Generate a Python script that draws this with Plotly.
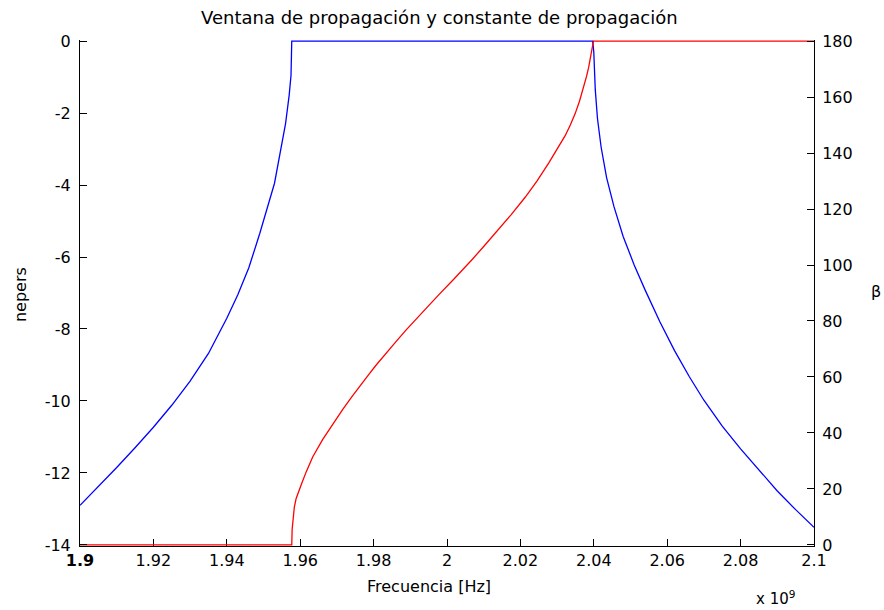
import plotly.graph_objects as go

# Frequency samples in units of 1e9 Hz
freq_alpha = [1.9000, 1.9050, 1.9100, 1.9150, 1.9200, 1.9250, 1.9300, 1.9350,
              1.9400, 1.9430, 1.9460, 1.9490, 1.9510, 1.9530, 1.9550, 1.9560,
              1.9570, 1.9575, 1.9577,
              2.0397,
              2.0400, 2.0404, 2.0410, 2.0420, 2.0435, 2.0455, 2.0480, 2.0510,
              2.0540, 2.0580, 2.0620, 2.0660, 2.0700, 2.0750, 2.0800, 2.0850,
              2.0900, 2.0950, 2.1000]
# Attenuation (nepers)
alpha = [-12.90, -12.38, -11.85, -11.30, -10.73, -10.12, -9.45, -8.68,
         -7.70, -7.05, -6.30, -5.34, -4.62, -3.95, -2.85, -2.30,
         -1.50, -0.95, 0.0,
         0.0,
         -0.31, -1.35, -2.15, -2.95, -3.80, -4.60, -5.43, -6.22,
         -6.92, -7.80, -8.60, -9.32, -9.98, -10.70, -11.33, -11.92,
         -12.50, -13.02, -13.51]

freq_beta = [1.9000, 1.9577, 1.9578, 1.9580, 1.9584, 1.9589, 1.9596, 1.9603,
             1.9616, 1.9634, 1.9661, 1.9688, 1.9716, 1.9740, 1.9761, 1.9785,
             1.9806, 1.9835, 1.9861, 1.9890, 1.9924, 1.9950, 1.9978, 2.0019,
             2.0045, 2.0068, 2.0100, 2.0141, 2.0175, 2.0213, 2.0245, 2.0277,
             2.0300, 2.0322, 2.0336, 2.0349, 2.0361, 2.0372, 2.0380, 2.0386,
             2.0391, 2.0395, 2.0397, 2.0399, 2.1000]
# Phase constant (degrees)
beta = [0.0, 0.0, 5.5, 9.5, 13.5, 16.6, 19.3, 21.6,
        26.0, 31.4, 37.6, 43.0, 48.4, 52.8, 56.6, 60.6,
        64.1, 68.7, 72.6, 77.0, 81.9, 85.6, 89.4, 95.0,
        98.6, 101.9, 106.6, 112.7, 118.0, 124.2, 130.0, 136.4,
        141.2, 146.2, 150.0, 154.0, 158.5, 163.2, 167.3, 170.6,
        174.2, 177.0, 177.5, 180.0, 180.0]

x_ticks = [1.9, 1.92, 1.94, 1.96, 1.98, 2.0, 2.02, 2.04, 2.06, 2.08, 2.1]
x_ticktext = ["<b>1.9</b>", "1.92", "1.94", "1.96", "1.98", "2", "2.02",
              "2.04", "2.06", "2.08", "2.1"]
y_ticks = [0, -2, -4, -6, -8, -10, -12, -14]
y_ticktext = ["0", "-2", "-4", "-6", "-8", "-10", "-12", "-14"]
y2_ticks = [0, 20, 40, 60, 80, 100, 120, 140, 160, 180]

SCALE = 1e9
FONT = "DejaVu Sans"

fig = go.Figure()
fig.add_trace(go.Scatter(
    x=[f * SCALE for f in freq_alpha], y=alpha, mode="lines",
    line=dict(color="#0000FF", width=1.3),
    yaxis="y", showlegend=False))
fig.add_trace(go.Scatter(
    x=[f * SCALE for f in freq_beta], y=beta, mode="lines",
    line=dict(color="#FF0000", width=1.3),
    yaxis="y2", showlegend=False))

pad = 0.03
fig.update_layout(
    width=884, height=610,
    margin=dict(l=80, r=70, t=40, b=64),
    paper_bgcolor="white", plot_bgcolor="white",
    font=dict(family=FONT, size=16, color="black"),
    xaxis=dict(
        range=[1.9 * SCALE, 2.1 * SCALE],
        tickvals=[t * SCALE for t in x_ticks], ticktext=x_ticktext,
        ticks="inside", ticklen=7, tickcolor="black", tickwidth=1,
        showline=True, linecolor="black", linewidth=1, mirror=False,
        showgrid=False, zeroline=False, layer="below traces",
        tickfont=dict(family=FONT, size=16, color="black")),
    yaxis=dict(
        range=[-14 - pad, 0 + pad], tickvals=y_ticks, ticktext=y_ticktext,
        ticks="inside", ticklen=7, tickcolor="black", tickwidth=1,
        showline=True, linecolor="black", linewidth=1,
        showgrid=False, zeroline=False, ticklabelstandoff=5,
        tickfont=dict(family=FONT, size=16, color="black")),
    yaxis2=dict(
        range=[0 - pad * 180 / 14, 180 + pad * 180 / 14], tickvals=y2_ticks,
        overlaying="y", side="right", anchor="x",
        ticks="inside", ticklen=7, tickcolor="black", tickwidth=1,
        showline=True, linecolor="black", linewidth=1,
        showgrid=False, zeroline=False, ticklabelstandoff=4,
        tickfont=dict(family=FONT, size=16, color="black")),
    annotations=[
        dict(text="Ventana de propagación y constante de propagación",
             xref="paper", yref="paper", x=0.49, y=1.0435,
             xanchor="center", yanchor="middle", showarrow=False,
             font=dict(family=FONT, size=18, color="black")),
        dict(text="nepers", xref="paper", yref="paper", x=-0.0817, y=0.496,
             xanchor="center", yanchor="middle", textangle=-90,
             showarrow=False, font=dict(family=FONT, size=16, color="black")),
        dict(text="β", xref="paper", yref="paper", x=1.084, y=0.502,
             xanchor="center", yanchor="middle", showarrow=False,
             font=dict(family=FONT, size=16, color="black")),
        dict(text="Frecuencia [Hz]", xref="paper", yref="paper",
             x=0.4755, y=-0.08, xanchor="center", yanchor="middle",
             showarrow=False, font=dict(family=FONT, size=16, color="black")),
        dict(text="x 10<sup>9</sup>", xref="paper", yref="paper",
             x=0.947, y=-0.103, xanchor="center", yanchor="middle",
             showarrow=False, font=dict(family=FONT, size=15, color="black")),
    ],
)

fig.write_html("out.html")
